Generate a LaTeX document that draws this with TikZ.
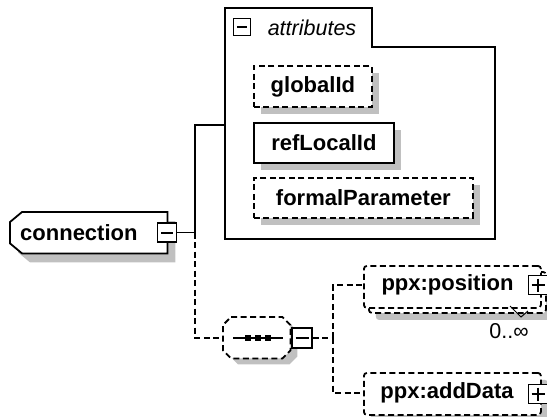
\documentclass[tikz,border=0pt]{standalone}
\usepackage{fontspec}
\setmainfont{Liberation Sans}
\usetikzlibrary{calc,shadows}
\definecolor{shadowgray}{RGB}{192,192,192}
\pgfdeclarelayer{shadowlayer}
\pgfdeclarelayer{shapelayer}
\pgfsetlayers{shadowlayer,shapelayer,main}
\tikzset{
  outline/.style={line width=1.8pt, draw=black},
  dashline/.style={dash pattern=on 6pt off 3.5pt},
  boxtext/.style={font=\fontsize{22}{26}\selectfont\bfseries, inner sep=0pt},
  plaintext/.style={font=\fontsize{21.5}{25}\selectfont, inner sep=0pt},
  elembox/.style={outline, fill=white, inner sep=0pt, anchor=north west, font=\fontsize{22}{26}\selectfont\bfseries},
  eshadow/.style={drop shadow={shadow xshift=7pt, shadow yshift=-7pt, fill=shadowgray, opacity=1}},
  btn/.style={outline, fill=white, minimum size=19pt, inner sep=0pt},
  btnminus/.style={btn, path picture={\draw[line width=2pt] ([xshift=3.5pt]path picture bounding box.west) -- ([xshift=-3.5pt]path picture bounding box.east);}},
  btnplus/.style={btn, path picture={\draw[line width=1.8pt] ([xshift=3pt]path picture bounding box.west) -- ([xshift=-3pt]path picture bounding box.east) ([yshift=-3pt]path picture bounding box.north) -- ([yshift=3pt]path picture bounding box.south);}},
  conn/.style={line width=1.8pt},
  hidden/.style={draw=none, fill=none, inner sep=0pt, anchor=north west},
}
\begin{document}
\begin{tikzpicture}[x=1pt,y=-1pt]
\useasboundingbox (0,0) rectangle (547,416);
\clip (0,0) rectangle (547,416);

% ---- connection element
\node[hidden, minimum width=157pt, minimum height=41pt] (conn) at (10,212) {};
\begin{pgfonlayer}{shadowlayer}
\fill[shadowgray, transform canvas={xshift=8pt,yshift=-9pt}]
  ($(conn.north west)+(12,0)$) -- (conn.north east) -- (conn.south east)
  -- ($(conn.south west)+(12,0)$) -- ($(conn.south west)+(0,-10)$)
  -- ($(conn.north west)+(0,10)$) -- cycle;
\end{pgfonlayer}
\begin{pgfonlayer}{shapelayer}
\draw[outline, fill=white]
  ($(conn.north west)+(12,0)$) -- (conn.north east) -- (conn.south east)
  -- ($(conn.south west)+(12,0)$) -- ($(conn.south west)+(0,-10)$)
  -- ($(conn.north west)+(0,10)$) -- cycle;
\end{pgfonlayer}
\node[boxtext, anchor=west] (conntext) at ($(conn.west)+(10,0)$) {connection};
\node[btnminus] (connbtn) at (167,232.5) {};

% ---- attributes group
\draw[outline] (225,8) -- (372,8) -- (372,47) -- (495,47) -- (495,239) -- (225,239) -- cycle;
\coordinate (attrleft) at (225,125);
\node[btnminus, minimum size=17pt] (attrbtn) at (242,27) {};
\node[plaintext, font=\fontsize{21.5}{25}\selectfont\itshape] (attrlabel) at (312,28) {attributes};

\node[elembox, dashline, eshadow, minimum width=118pt, minimum height=41pt] (gid) at (253,65) {globalId};
\node[elembox, eshadow, minimum width=140pt, minimum height=40pt] (rid) at (253,122) {refLocalId};
\node[elembox, dashline, eshadow, minimum width=219pt, minimum height=40pt] (fpar) at (253,177) {formalParameter};

% ---- sequence compositor
\node[hidden, minimum width=67pt, minimum height=41pt] (seq) at (223,317) {};
\begin{pgfonlayer}{shadowlayer}
\fill[shadowgray, transform canvas={xshift=7pt,yshift=-6pt}]
  ($(seq.north west)+(8,0)$) -- ($(seq.north east)+(-8,0)$) -- ($(seq.north east)+(0,8)$)
  -- ($(seq.south east)+(0,-8)$) -- ($(seq.south east)+(-8,0)$) -- ($(seq.south west)+(8,0)$)
  -- ($(seq.south west)+(0,-8)$) -- ($(seq.north west)+(0,8)$) -- cycle;
\end{pgfonlayer}
\begin{pgfonlayer}{shapelayer}
\draw[outline, dashline, fill=white]
  ($(seq.north west)+(8,0)$) -- ($(seq.north east)+(-8,0)$) -- ($(seq.north east)+(0,8)$)
  -- ($(seq.south east)+(0,-8)$) -- ($(seq.south east)+(-8,0)$) -- ($(seq.south west)+(8,0)$)
  -- ($(seq.south west)+(0,-8)$) -- ($(seq.north west)+(0,8)$) -- cycle;
\end{pgfonlayer}
\draw[line width=1.8pt] ($(seq.west)+(10,0)$) -- ($(seq.east)+(-7,0)$);
\foreach \dx in {-10,0,10}{
  \fill ($(seq.center)+(1.5+\dx,0)+(-3,-3)$) rectangle ++(6,6);
}
\node[btnminus, minimum size=20pt] (seqbtn) at (302,338) {};

% ---- ppx:position (multiple occurrence)
\node[elembox, dashline, eshadow, rounded corners=3pt, minimum width=177pt, minimum height=41pt] (posback) at (368,271) {};
\node[elembox, dashline, rounded corners=3pt, minimum width=177pt, minimum height=42pt] (pos) at (363,265) {};
\node[boxtext] (postext) at (447.5,285) {ppx:position};
\node[btnplus] (posbtn) at (538,285) {};
\draw[line width=1pt] (510,306) -- (521,317) -- (528,311);
\node[plaintext] (occ) at (509,331) {0..∞};

% ---- ppx:addData
\node[elembox, dashline, eshadow, rounded corners=3pt, minimum width=177pt, minimum height=42pt] (add) at (363,372) {};
\node[boxtext] (addtext) at (447,393) {ppx:addData};
\node[btnplus] (addbtn) at (538,394) {};

% ---- connectors
\coordinate (junc) at (195,232.5);
\coordinate (fork) at (333,338);
\draw[conn] (connbtn.east) -- (junc) |- (attrleft);
\draw[conn, dashline] (junc) |- (seq.west);
\draw[conn, dashline] (seqbtn.east) -- (fork);
\draw[conn, dashline] (fork) |- (postext.west -| pos.west);
\draw[conn, dashline] (fork) |- (addtext.west -| add.west);
\end{tikzpicture}
\end{document}
